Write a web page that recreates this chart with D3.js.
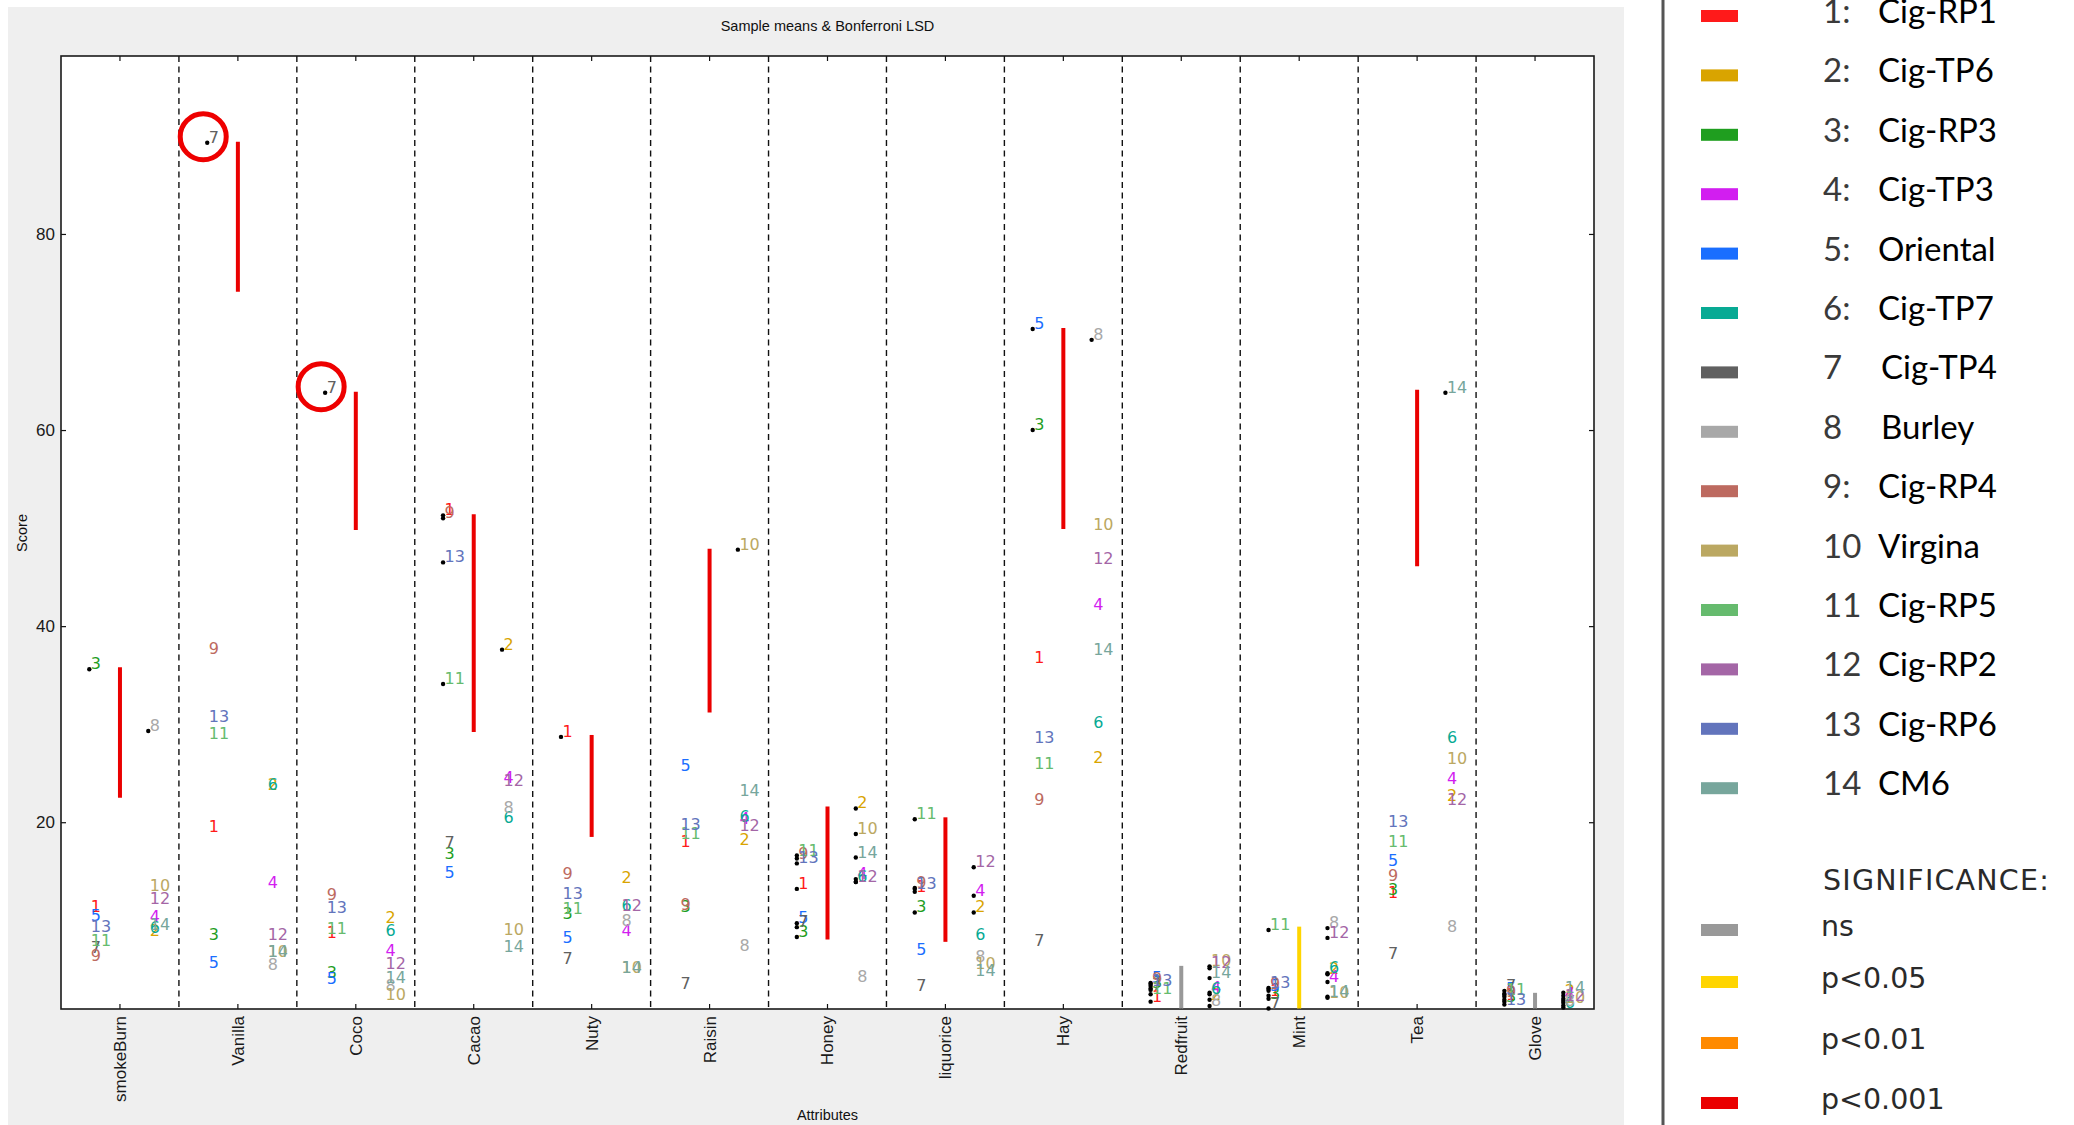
<!DOCTYPE html>
<html><head><meta charset="utf-8">
<script src="https://cdn.jsdelivr.net/npm/d3@7"></script>
<style>html,body{margin:0;padding:0;background:#fff;} svg{display:block;}</style>
</head><body>
<svg id="chart" width="2074" height="1125"></svg>
<script>
// ---------- DATA ----------
const attributes = ["smokeBurn","Vanilla","Coco","Cacao","Nuty","Raisin","Honey","liquorice","Hay","Redfruit","Mint","Tea","Glove"];
const productIds = [1,2,3,4,5,6,7,8,9,10,11,12,13,14];
const productNames = ["Cig-RP1","Cig-TP6","Cig-RP3","Cig-TP3","Oriental","Cig-TP7","Cig-TP4","Burley","Cig-RP4","Virgina","Cig-RP5","Cig-RP2","Cig-RP6","CM6"];
const legendKeys = ["1:","2:","3:","4:","5:","6:","7","8","9:","10","11","12","13","14"];

// mean score per product, in attribute order
const p1  = [10.8, 19.05, 8.2, 51.3, 28.7, 17.5, 13.2, 12.9, 36.2, 1.7, 2.3, 12.3, 1.9];
const p2  = [8.4, 23.3, 9.7, 37.6, 13.8, 17.7, 21.4, 10.8, 26.0, 1.9, 4.5, 22.2, 2.3];
const p3  = [35.6, 8.0, 4.15, 16.3, 10.1, 10.85, 8.3, 10.8, 60.0, 3.05, 2.0, 12.6, 1.7];
const p4  = [9.8, 13.3, 6.4, 24.0, 8.4, 19.8, 14.2, 12.5, 41.6, 2.6, 3.7, 23.9, 2.0];
const p5  = [9.9, 5.1, 3.5, 14.3, 7.65, 25.2, 9.7, 6.5, 70.3, 3.6, 2.8, 15.5, 2.5];
const p6  = [8.75, 23.3, 8.4, 19.9, 10.9, 20.0, 13.9, 8.0, 29.6, 2.45, 4.6, 28.1, 1.1];
const p7  = [6.7, 89.3, 63.8, 17.4, 5.5, 3.0, 9.3, 2.8, 7.4, 2.9, 1.0, 6.1, 2.8];
const p8  = [29.3, 4.9, 2.8, 20.9, 9.4, 6.9, 3.7, 5.7, 69.2, 1.25, 9.2, 8.8, 1.3];
const p9  = [5.85, 37.2, 12.1, 51.0, 14.2, 11.05, 16.3, 13.3, 21.8, 3.5, 3.0, 14.0, 2.2];
const p10 = [13.0, 6.3, 1.9, 8.5, 4.6, 47.8, 18.8, 5.0, 49.8, 5.3, 2.1, 25.9, 1.6];
const p11 = [7.4, 28.5, 8.6, 34.1, 10.6, 18.3, 16.6, 20.3, 25.4, 2.45, 9.0, 17.5, 2.4];
const p12 = [11.7, 8.0, 5.0, 23.7, 10.9, 19.1, 13.9, 15.4, 46.3, 5.1, 8.2, 21.8, 1.8];
const p13 = [8.85, 30.2, 10.7, 46.5, 12.2, 19.2, 15.8, 13.2, 28.1, 3.3, 3.1, 19.5, 1.4];
const p14 = [9.0, 6.3, 3.6, 6.8, 4.6, 22.7, 16.4, 4.3, 37.1, 4.1, 2.2, 63.8, 2.6];
const productValues = [p1,p2,p3,p4,p5,p6,p7,p8,p9,p10,p11,p12,p13,p14];

// products marked with a black dot, per attribute
const dottedProducts = [
  [3,8],
  [7],
  [7],
  [1,9,13,11,2],
  [1],
  [10],
  [11,9,13,1,5,7,3,2,10,14,4,6,12],
  [11,9,1,13,3,12,4,2],
  [5,3,8],
  [1,2,3,4,5,6,7,8,9,10,11,12,13,14],
  [1,2,3,4,5,6,7,8,9,10,11,12,13,14],
  [14],
  [1,2,3,4,5,6,7,8,9,10,11,12,13,14]
];

// Bonferroni LSD bar (top, bottom) and significance per attribute
const lsdTop    = [35.8, 89.4, 63.9, 51.4, 28.9, 47.9, 21.6, 20.5, 70.4, 5.35, 9.35, 64.1, 2.6];
const lsdBottom = [22.5, 74.1, 49.8, 29.2, 18.5, 31.2, 8.05, 7.8, 49.9, 1.0, 1.0, 46.1, 1.0];
const significance = ["p<0.001","p<0.001","p<0.001","p<0.001","p<0.001","p<0.001","p<0.001","p<0.001","p<0.001","ns","p<0.05","p<0.001","ns"];
const sigLevels = ["ns","p<0.05","p<0.01","p<0.001"];

const yTicks = [20,40,60,80];
// circled points: [attribute, product]
const highlighted = [["Vanilla",7],["Coco",7]];

// ---------- STYLES ----------
const productColors = ["#ff1a1a","#d9a400","#1f9e1f","#d21ef0","#1a6eff","#08aa94","#606060","#a8a8a8","#bd6a60","#bba862","#66bb6e","#a466a6","#6274bc","#77a69c"];
const sigColors = {"ns":"#999999","p<0.05":"#ffd500","p<0.01":"#ff8a00","p<0.001":"#ea0000"};

// ---------- CHART ----------
const svg = d3.select("#chart");
const W = 2074, H = 1125;
const plot = {left:61, right:1594, top:56, bottom:1009};

svg.append("rect").attr("x",0).attr("y",0).attr("width",W).attr("height",H).attr("fill","#ffffff");
svg.append("rect").attr("x",8).attr("y",7).attr("width",1616).attr("height",H-7).attr("fill","#efefef");
svg.append("rect").attr("x",plot.left).attr("y",plot.top)
  .attr("width",plot.right-plot.left).attr("height",plot.bottom-plot.top).attr("fill","#ffffff");

const x = d3.scaleBand().domain(attributes).range([plot.left, plot.right]).padding(0);
const y = d3.scaleLinear().domain([0.95, 98.15]).range([plot.bottom, plot.top]);
const bw = x.bandwidth();

// separators
svg.append("g").selectAll("line").data(attributes.slice(1)).join("line")
  .attr("x1", d => x(d)).attr("x2", d => x(d))
  .attr("y1", plot.top).attr("y2", plot.bottom)
  .attr("stroke","#111").attr("stroke-width",1.4).attr("stroke-dasharray","6,4.5");

// axes
const tickFont = "'Liberation Sans', Arial, sans-serif";
const gl = svg.append("g").attr("transform",`translate(${plot.left},0)`)
  .call(d3.axisLeft(y).tickValues(yTicks).tickSize(-5).tickPadding(6).tickFormat(d3.format("d")));
const gr = svg.append("g").attr("transform",`translate(${plot.right},0)`)
  .call(d3.axisRight(y).tickValues(yTicks).tickSize(-5).tickFormat(""));
const gb = svg.append("g").attr("transform",`translate(0,${plot.bottom})`)
  .call(d3.axisBottom(x).tickSize(-5).tickPadding(7));
const gt = svg.append("g").attr("transform",`translate(0,${plot.top})`)
  .call(d3.axisTop(x).tickSize(-5).tickFormat(""));
[gl,gr,gb,gt].forEach(g => {
  g.select(".domain").remove();
  g.selectAll(".tick line").attr("stroke","#111").attr("stroke-width",1.2);
  g.selectAll("text").attr("font-family",tickFont).attr("font-size",17).attr("fill","#1a1a1a");
});
gb.selectAll(".tick text")
  .attr("transform","rotate(-90)")
  .attr("text-anchor","end")
  .attr("x",-7).attr("y",0).attr("dy","0.35em");

// frame
svg.append("rect").attr("x",plot.left).attr("y",plot.top)
  .attr("width",plot.right-plot.left).attr("height",plot.bottom-plot.top)
  .attr("fill","none").attr("stroke","#1a1a1a").attr("stroke-width",1.6);

// LSD bars
svg.append("g").selectAll("line").data(attributes).join("line")
  .attr("x1", d => x(d) + bw/2).attr("x2", d => x(d) + bw/2)
  .attr("y1", (d,i) => y(lsdTop[i])).attr("y2", (d,i) => y(lsdBottom[i]))
  .attr("stroke", (d,i) => sigColors[significance[i]]).attr("stroke-width",4);

// points
const pts = [];
attributes.forEach((a,ai) => {
  productIds.forEach((pid,pi) => {
    pts.push({a, ai, pid, v: productValues[pi][ai], dot: dottedProducts[ai].includes(pid)});
  });
});
const px = d => x(d.a) + bw * (d.pid % 2 === 1 ? 0.24 : 0.74);

svg.append("g").selectAll("circle").data(pts.filter(d => d.dot)).join("circle")
  .attr("cx", px).attr("cy", d => y(d.v)).attr("r",2.2).attr("fill","#000");

svg.append("g").selectAll("text").data(pts).join("text")
  .attr("x", d => px(d) + 1.5).attr("y", d => y(d.v))
  .attr("font-family","'DejaVu Sans', sans-serif").attr("font-size",16)
  .attr("fill", d => productColors[d.pid-1])
  .text(d => d.pid);

// highlight circles
svg.append("g").selectAll("circle").data(highlighted).join("circle")
  .attr("cx", d => x(d[0]) + bw*(d[1]%2===1?0.24:0.74) - 4)
  .attr("cy", d => y(productValues[d[1]-1][attributes.indexOf(d[0])]) - 6)
  .attr("r",23).attr("fill","none").attr("stroke","#ee0000").attr("stroke-width",5);

// titles
svg.append("text").attr("x",(plot.left+plot.right)/2).attr("y",31)
  .attr("text-anchor","middle").attr("font-family",tickFont).attr("font-size",14.5).attr("fill","#111")
  .text("Sample means & Bonferroni LSD");
svg.append("text").attr("x",(plot.left+plot.right)/2).attr("y",1120)
  .attr("text-anchor","middle").attr("font-family",tickFont).attr("font-size",14.5).attr("fill","#111")
  .text("Attributes");
svg.append("text").attr("transform","translate(27,533) rotate(-90)")
  .attr("text-anchor","middle").attr("font-family",tickFont).attr("font-size",14.5).attr("fill","#111")
  .text("Score");

// ---------- LEGEND ----------
svg.append("line").attr("x1",1663).attr("x2",1663).attr("y1",0).attr("y2",H)
  .attr("stroke","#555").attr("stroke-width",3);

const legFont = "Lato, 'Noto Sans', sans-serif";
const leg = svg.append("g");
const legY = i => 16 + 59.4*i;
leg.selectAll("rect.sw").data(productIds).join("rect").attr("class","sw")
  .attr("x",1701).attr("y",(d,i) => legY(i)-6).attr("width",37).attr("height",12)
  .attr("fill",(d,i) => productColors[i]);
leg.selectAll("text.key").data(legendKeys).join("text").attr("class","key")
  .attr("x",1823).attr("y",(d,i) => legY(i)+7)
  .attr("font-family",legFont).attr("font-size",33).attr("fill","#3a3a3a")
  .text(d => d);
leg.selectAll("text.nm").data(productNames).join("text").attr("class","nm")
  .attr("x",(d,i) => (i===6||i===7) ? 1881 : 1878).attr("y",(d,i) => legY(i)+7)
  .attr("font-family",legFont).attr("font-size",33).attr("fill","#000")
  .text(d => d);

const sigFont = "'DejaVu Sans', sans-serif";
leg.append("text").attr("x",1823).attr("y",890)
  .attr("font-family",sigFont).attr("font-size",28.5).attr("letter-spacing",1.2).attr("fill","#2a2a2a")
  .text("SIGNIFICANCE:");
const sigY = [930, 982, 1043, 1103];
leg.selectAll("rect.sg").data(sigLevels).join("rect").attr("class","sg")
  .attr("x",1701).attr("y",(d,i) => sigY[i]-6).attr("width",37).attr("height",12)
  .attr("fill",d => sigColors[d]);
leg.selectAll("text.sg").data(sigLevels).join("text").attr("class","sg")
  .attr("x",1821).attr("y",(d,i) => sigY[i]+6)
  .attr("font-family",sigFont).attr("font-size",28.5).attr("fill","#2a2a2a")
  .text(d => d);
</script>
</body></html>
